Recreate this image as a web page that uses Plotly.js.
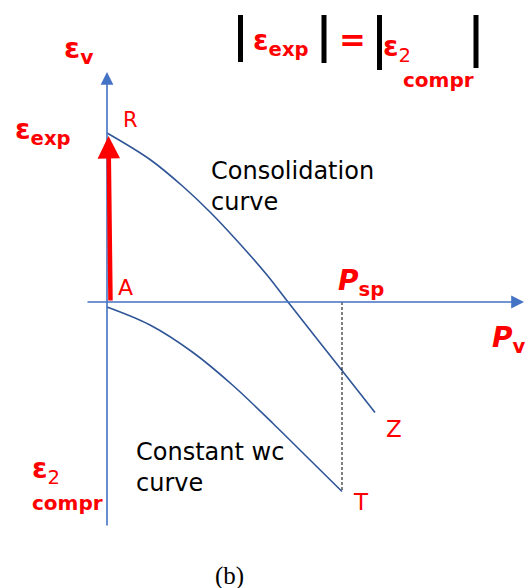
<!DOCTYPE html>
<html>
<head>
<meta charset="utf-8">
<script src="https://cdn.plot.ly/plotly-3.0.1.min.js"></script>
<style>
  html, body { margin: 0; padding: 0; background: #ffffff; }
  #chart { width: 525px; height: 588px; }
</style>
</head>
<body>
<div id="chart"></div>
<script>
// Consolidation curve R -> Z (vertical stress P_v vs volumetric strain eps_v)
const consP   = [0.00, 0.86, 1.52, 2.06, 2.66, 3.20, 3.62, 4.70, 5.36];
const consEps = [3.38, 2.85, 2.31, 1.80, 1.16, 0.54, 0.00, -1.37, -2.21];

// Constant water-content curve A -> T
const cwcP   = [0.00, 0.86, 1.72, 2.52, 3.32, 4.00, 4.70];
const cwcEps = [-0.10, -0.46, -1.01, -1.67, -2.43, -3.10, -3.79];

// Swelling pressure and the experimental strain at zero stress
const pSwell = 4.70;
const epsExp = 3.38;

// Axis extents (tail, tip)
const pAxis   = [-0.42, 8.34];
const epsAxis = [-4.50, 4.60];

// Page pixel -> plot units (origin A at 107,302; 50 px per unit)
const U = 50, OX = 107, OY = 302;
const px = v => (v - OX) / U;
const py = v => (OY - v) / U;

const RED = '#ff0000';
const AXIS_BLUE = '#4472c4';
const CURVE_BLUE = '#2f5597';
const SANS = 'DejaVu Sans, Arial, sans-serif';

const traces = [
  {
    x: consP, y: consEps, mode: 'lines', type: 'scatter',
    line: { color: CURVE_BLUE, width: 1.6, shape: 'spline', smoothing: 1 },
    hoverinfo: 'skip'
  },
  {
    x: cwcP, y: cwcEps, mode: 'lines', type: 'scatter',
    line: { color: CURVE_BLUE, width: 1.6, shape: 'spline', smoothing: 1 },
    hoverinfo: 'skip'
  },
  {
    // dashed drop from the P axis at P_sp down to T
    x: [pSwell, pSwell], y: [0, cwcEps[cwcEps.length - 1]], mode: 'lines', type: 'scatter',
    line: { color: '#000000', width: 1, dash: '3px,2px' },
    hoverinfo: 'skip'
  }
];

function label(text, x, y, size, opts) {
  return Object.assign({
    text: text, x: px(x), y: py(y), xref: 'x', yref: 'y',
    xanchor: 'left', yanchor: 'middle', showarrow: false,
    font: { family: SANS, size: size, color: RED }
  }, opts || {});
}

const annotations = [
  // axes with arrow heads
  {
    x: pAxis[1], y: 0, ax: pAxis[0], ay: 0, xref: 'x', yref: 'y', axref: 'x', ayref: 'y',
    showarrow: true, arrowhead: 2, arrowsize: 1.6, arrowwidth: 1.6, arrowcolor: AXIS_BLUE, text: ''
  },
  {
    x: 0, y: epsAxis[1], ax: 0, ay: epsAxis[0], xref: 'x', yref: 'y', axref: 'x', ayref: 'y',
    showarrow: true, arrowhead: 2, arrowsize: 1.6, arrowwidth: 1.6, arrowcolor: AXIS_BLUE, text: ''
  },
  // experimental strain arrow A -> R
  {
    x: 0.03, y: epsExp, ax: 0.07, ay: 0, xref: 'x', yref: 'y', axref: 'x', ayref: 'y',
    showarrow: true, arrowhead: 2, arrowsize: 1, arrowwidth: 4.5, arrowcolor: RED,
    standoff: 3, text: ''
  },

  label('<b>ε<sub>v</sub></b>', 62, 50, 29),
  label('<b>ε<sub>exp</sub></b>', 13, 131, 28),
  label('R', 121, 120, 21),
  label('A', 116, 287, 22),
  label('<b><i>P</i><sub>sp</sub></b>', 336, 282, 28),
  label('<b><i>P</i><sub>v</sub></b>', 490, 339, 28),
  label('Z', 384, 429, 23),
  label('T', 351, 502, 23),
  label('<b>ε</b><sub>2</sub>', 30, 470, 28),
  label('<b>compr</b>', 30, 503, 20),

  label('Consolidation<br>curve', 209, 186, 24, { align: 'left', font: { family: SANS, size: 24, color: '#000000' } }),
  label('Constant wc<br>curve', 134, 467, 24, { align: 'left', font: { family: SANS, size: 24, color: '#000000' } }),

  // |eps_exp| = |eps_2 compr|
  label('<b>ε<sub>exp</sub></b>', 251, 42, 28),
  label('<b>=</b>', 337, 40, 32),
  label('<b>ε</b><sub>2</sub>', 381, 48, 28),
  label('<b>compr</b>', 401, 80, 20),

  label('(b)', 229, 576, 25, {
    xanchor: 'center', font: { family: 'Liberation Serif, Times New Roman, serif', size: 25, color: '#000000' }
  })
];

// absolute-value bars of the formula
const barDefs = [[240.5, 15, 62], [324, 15, 63], [379.5, 15, 70], [476, 15, 68]];
const shapes = barDefs.map(b => ({
  type: 'line', xref: 'x', yref: 'y',
  x0: px(b[0]), x1: px(b[0]), y0: py(b[1]), y1: py(b[2]),
  line: { color: '#000000', width: 5 }
}));

const layout = {
  width: 525, height: 588,
  margin: { l: 0, r: 0, t: 0, b: 0 },
  paper_bgcolor: '#ffffff', plot_bgcolor: '#ffffff',
  showlegend: false,
  xaxis: { range: [px(0), px(525)], visible: false, fixedrange: true },
  yaxis: { range: [py(588), py(0)], visible: false, fixedrange: true },
  annotations: annotations,
  shapes: shapes
};

Plotly.newPlot('chart', traces, layout, { displayModeBar: false });
</script>
</body>
</html>
